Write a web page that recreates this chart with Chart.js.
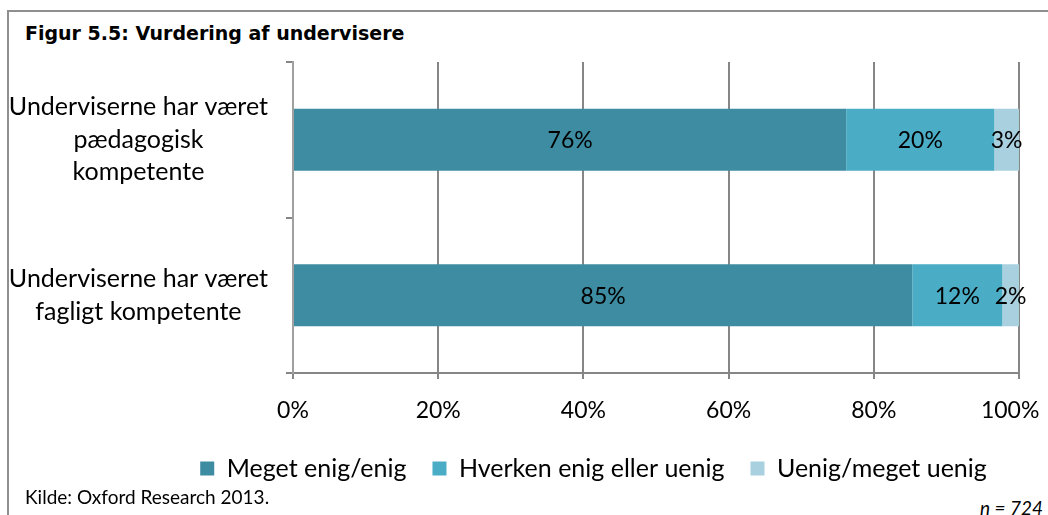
<!DOCTYPE html>
<html>
<head>
<meta charset="utf-8">
<script src="https://cdn.jsdelivr.net/npm/chart.js@4.4.0/dist/chart.umd.min.js"></script>
<style>
  body { margin: 0; background: #fff; width: 1048px; height: 515px; overflow: hidden; position: relative; }
  .frame { position: absolute; left: 7px; top: 10px; width: 1060px; height: 600px; border-left: 2px solid #8f8f8f; border-top: 2px solid #8f8f8f; }
  .title { position: absolute; left: 25px; top: 22px; font: bold 19px "DejaVu Sans", sans-serif; color: #000; }
  .source { position: absolute; left: 25px; top: 485px; font: 19px Lato, sans-serif; color: #000; }
  .n { position: absolute; right: 5px; top: 496px; font: italic 19px Lato, sans-serif; color: #000; }
  #chart-wrap { position: absolute; left: 0; top: 0; width: 1048px; height: 492px; }
</style>
</head>
<body>
<div class="frame"></div>
<div class="title">Figur 5.5: Vurdering af undervisere</div>
<div id="chart-wrap"><canvas id="chart"></canvas></div>
<div class="source">Kilde: Oxford Research 2013.</div>
<div class="n">n = 724</div>
<script>
// categories (y axis)
const categories = [
    ['Underviserne har været', 'pædagogisk', 'kompetente'],
    ['Underviserne har været', 'fagligt kompetente']
];
const seriesNames = ['Meget enig/enig', 'Hverken enig eller uenig', 'Uenig/meget uenig'];
// shares in percent
const agree    = [76.2, 85.3];
const neutral  = [20.4, 12.4];
const disagree = [3.4, 2.3];
const xTicks = [0, 20, 40, 60, 80, 100];
const colors = ['#3d8ca2', '#4bacc6', '#a9d0de'];

const fontFam = 'Lato, sans-serif';

// draw percentage labels in the middle of each segment
const barLabels = {
    id: 'barLabels',
    afterDatasetsDraw(chart) {
        const ctx = chart.ctx;
        ctx.save();
        ctx.font = '23px ' + fontFam;
        ctx.fillStyle = '#000';
        ctx.textAlign = 'center';
        ctx.textBaseline = 'middle';
        chart.data.datasets.forEach((ds, i) => {
            chart.getDatasetMeta(i).data.forEach((bar, j) => {
                const x = (bar.x + bar.base) / 2;
                ctx.fillText(Math.round(ds.data[j]) + '%', x, bar.y + 1);
            });
        });
        ctx.restore();
    }
};

// the original legend sits a bit right of the page centre
const legendShift = {
    id: 'legendShift',
    afterLayout(chart) {
        chart.legend.left += 84;
        chart.legend.right += 84;
    }
};

new Chart(document.getElementById('chart'), {
    type: 'bar',
    data: {
        labels: categories,
        datasets: [
            { label: seriesNames[0], data: agree, backgroundColor: colors[0] },
            { label: seriesNames[1], data: neutral, backgroundColor: colors[1] },
            { label: seriesNames[2], data: disagree, backgroundColor: colors[2] }
        ]
    },
    options: {
        indexAxis: 'y',
        responsive: true,
        maintainAspectRatio: false,
        animation: false,
        layout: { padding: { top: 62, right: 29, left: 0, bottom: 1 } },
        datasets: { bar: { categoryPercentage: 0.8, barPercentage: 0.5 } },
        scales: {
            x: {
                stacked: true,
                min: 0, max: 100,
                afterBuildTicks: s => { s.ticks = xTicks.map(v => ({ value: v })); },
                // last label is nudged left like in the original, so it stays inside the frame
                ticks: { callback: v => v === 100 ? v + '%   ' : v + '%', color: '#000', font: { family: fontFam, size: 23 }, padding: 18 },
                grid: { color: '#868686', lineWidth: 2, tickLength: 6 },
                border: { color: '#868686', width: 2 },
                afterFit: s => { s.height = 57; s.paddingRight = 0; }
            },
            y: {
                stacked: true,
                ticks: { color: '#000', crossAlign: 'center', font: { family: fontFam, size: 25, lineHeight: 1.3 }, padding: 18 },
                grid: { drawOnChartArea: false, color: '#868686', lineWidth: 2, tickLength: 7 },
                border: { color: '#a0a0a0', width: 2 },
                afterFit: s => { s.width = 293; }
            }
        },
        plugins: {
            legend: {
                position: 'bottom',
                labels: { boxWidth: 14, boxHeight: 14, padding: 26, color: '#000', font: { family: fontFam, size: 25 } }
            },
            tooltip: { enabled: false }
        }
    },
    plugins: [barLabels, legendShift]
});
</script>
</body>
</html>
